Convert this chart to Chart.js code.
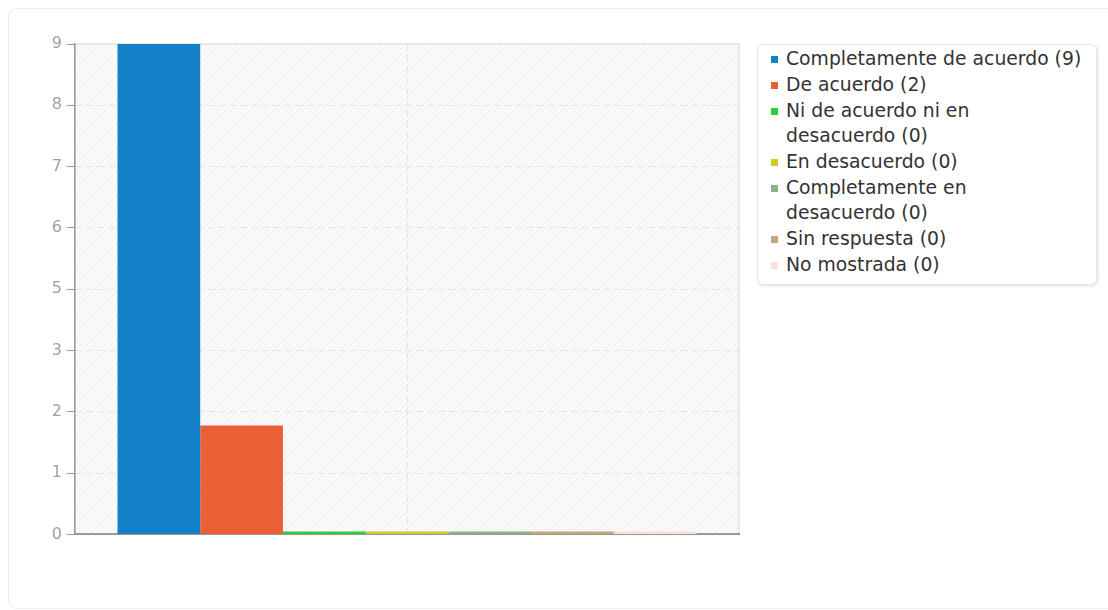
<!DOCTYPE html>
<html>
<head>
<meta charset="utf-8">
<script src="https://cdn.jsdelivr.net/npm/chart.js@4.4.0/dist/chart.umd.min.js"></script>
<style>
    body { margin: 0; background: #fff; font-family: "DejaVu Sans", sans-serif; overflow: hidden; width: 1108px; height: 610px; position: relative; }
    .card { position: absolute; left: 8px; top: 8px; width: 1200px; height: 601px; border: 1px solid #ebebeb; border-radius: 8px; box-sizing: border-box; }
    #wrap { position: absolute; left: 0; top: 0; width: 745px; height: 549px; }
    #legend { position: absolute; left: 757px; top: 44px; width: 340px; box-sizing: border-box; border: 1px solid #e6e6e6; border-radius: 6px; box-shadow: 1px 1px 3px rgba(0,0,0,0.12); padding: 1px 6px 6px 13px; background: #fff; }
    .item { display: flex; align-items: flex-start; font-size: 18.8px; line-height: 25px; color: #333; margin-bottom: 1px; }
    .sw { width: 7px; height: 7px; margin-top: 10px; margin-right: 8px; flex: none; }
    .txt { max-width: 299px; }
    #measure { position: absolute; visibility: hidden; white-space: nowrap; font-size: 18.8px; }
</style>
</head>
<body>
<div class="card"></div>
<div id="wrap"><canvas id="chart"></canvas></div>
<div id="legend"></div>
<span id="measure"></span>
<script>
const categories = [''];
const seriesNames = [
    'Completamente de acuerdo',
    'De acuerdo',
    'Ni de acuerdo ni en desacuerdo',
    'En desacuerdo',
    'Completamente en desacuerdo',
    'Sin respuesta',
    'No mostrada'
];
const seriesValues = [9, 2, 0, 0, 0, 0, 0];
const seriesColors = ['#1380c8', '#e86034', '#2fcc3a', '#cccc22', '#86b486', '#c6a67c', '#fae2da'];
const yTickLabels = ['0', '1', '2', '3', '5', '6', '7', '8', '9'];
const yMax = 9;

// hatched plot background + light frame
const plotBg = {
    id: 'plotBg',
    beforeDraw(chart) {
        const { ctx, chartArea: a } = chart;
        const p = document.createElement('canvas');
        p.width = 6; p.height = 6;
        const pc = p.getContext('2d');
        pc.fillStyle = '#fafafa';
        pc.fillRect(0, 0, 6, 6);
        pc.strokeStyle = '#ececec';
        pc.lineWidth = 1;
        pc.beginPath();
        pc.moveTo(0, 6); pc.lineTo(6, 0);
        pc.moveTo(-1, 1); pc.lineTo(1, -1);
        pc.moveTo(5, 7); pc.lineTo(7, 5);
        pc.stroke();
        ctx.save();
        ctx.fillStyle = ctx.createPattern(p, 'repeat');
        ctx.fillRect(a.left, a.top, a.right - a.left, a.bottom - a.top);
        ctx.strokeStyle = '#e2e2e2';
        ctx.lineWidth = 1.5;
        ctx.strokeRect(a.left, a.top, a.right - a.left, a.bottom - a.top);
        ctx.restore();
    }
};

new Chart(document.getElementById('chart'), {
    type: 'bar',
    data: {
        labels: categories,
        datasets: seriesNames.map((name, i) => ({
            label: name,
            data: [seriesValues[i]],
            backgroundColor: seriesColors[i],
            borderWidth: 0,
            minBarLength: 3,
            barPercentage: 1,
            categoryPercentage: 0.872
        }))
    },
    options: {
        responsive: true,
        maintainAspectRatio: false,
        animation: false,
        layout: { padding: { top: 44, right: 6, bottom: 8, left: 0 } },
        plugins: {
            legend: { display: false },
            tooltip: { enabled: false }
        },
        scales: {
            x: {
                afterFit: s => { s.height = 0; },
                grid: { offset: false, color: '#e4e4e4', drawTicks: false },
                border: { color: '#999', width: 2, dash: [7, 4] },
                ticks: { display: false }
            },
            y: {
                min: 0,
                max: yMax,
                afterFit: s => { s.width = 75; },
                grid: { color: '#e4e4e4', tickColor: '#999', tickLength: 8, tickBorderDash: [] },
                border: { color: '#999', width: 1.5, dash: [7, 4] },
                ticks: {
                    stepSize: yMax / (yTickLabels.length - 1),
                    color: '#a0a0a0',
                    padding: 5,
                    font: { family: 'DejaVu Sans', size: 16 },
                    callback: (v, i) => yTickLabels[i]
                }
            }
        }
    },
    plugins: [plotBg]
});

// legend: wrap width just fits the first entry
const legendText = seriesNames.map((name, i) => name + ' (' + seriesValues[i] + ')');
const measure = document.getElementById('measure');
measure.textContent = legendText[0];
const wrapWidth = measure.getBoundingClientRect().width + 0.05;

const legend = document.getElementById('legend');
legendText.forEach((text, i) => {
    const item = document.createElement('div');
    item.className = 'item';
    item.innerHTML = '<span class="sw" style="background:' + seriesColors[i] + '"></span>' +
        '<span class="txt" style="max-width:' + wrapWidth + 'px">' + text + '</span>';
    legend.appendChild(item);
});
</script>
</body>
</html>
